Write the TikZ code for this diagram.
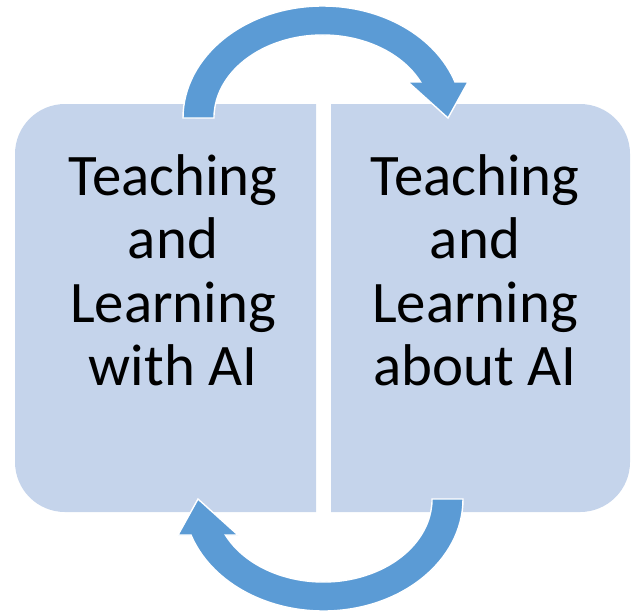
\documentclass[tikz,border=0pt]{standalone}
\usepackage{fontspec}
\setmainfont{Carlito}
\usetikzlibrary{positioning}
\definecolor{panelfill}{RGB}{197,212,235}
\definecolor{loopblue}{RGB}{91,155,213}

\begin{document}
\begin{tikzpicture}[
    x=0.02cm, y=0.02cm,
    paneltext/.style={anchor=north, align=center, inner sep=0pt,
                      font=\fontsize{33.5}{36}\selectfont},
    looparrow/.pic={
      % curved shaft leaving the left panel, head dropping onto the right one
      \fill[loopblue, draw=white, line width=0.8pt]
        (183,492) arc[start angle=180, end angle=18.75, x radius=139.7, y radius=112]
        -- (468,528) -- (448,492) -- (408,528) -- (420.6,528)
        arc[start angle=25.7, end angle=180, x radius=108.7, y radius=83]
        -- cycle;
    }
]
\useasboundingbox (0,0) rectangle (634,610);

% two panels, rounded on their outer sides only
\begin{scope}
  \clip (15,98) rectangle (316,506);
  \fill[panelfill, rounded corners=1cm] (15,98) rectangle (380,506);
\end{scope}
\begin{scope}
  \clip (331,98) rectangle (630,506);
  \fill[panelfill, rounded corners=1cm] (267,98) rectangle (630,506);
\end{scope}

% upper arrow, and the same arrow turned half round for the lower one
\pic at (0,0) {looparrow};
\pic[rotate=180] at (646,603) {looparrow};

\node[paneltext] (withAI) at (173,455.5) {Teaching\\and\\Learning\\with AI};
\node[paneltext] (aboutAI) at (475,455.5) {Teaching\\and\\Learning\\about AI};
\end{tikzpicture}
\end{document}
